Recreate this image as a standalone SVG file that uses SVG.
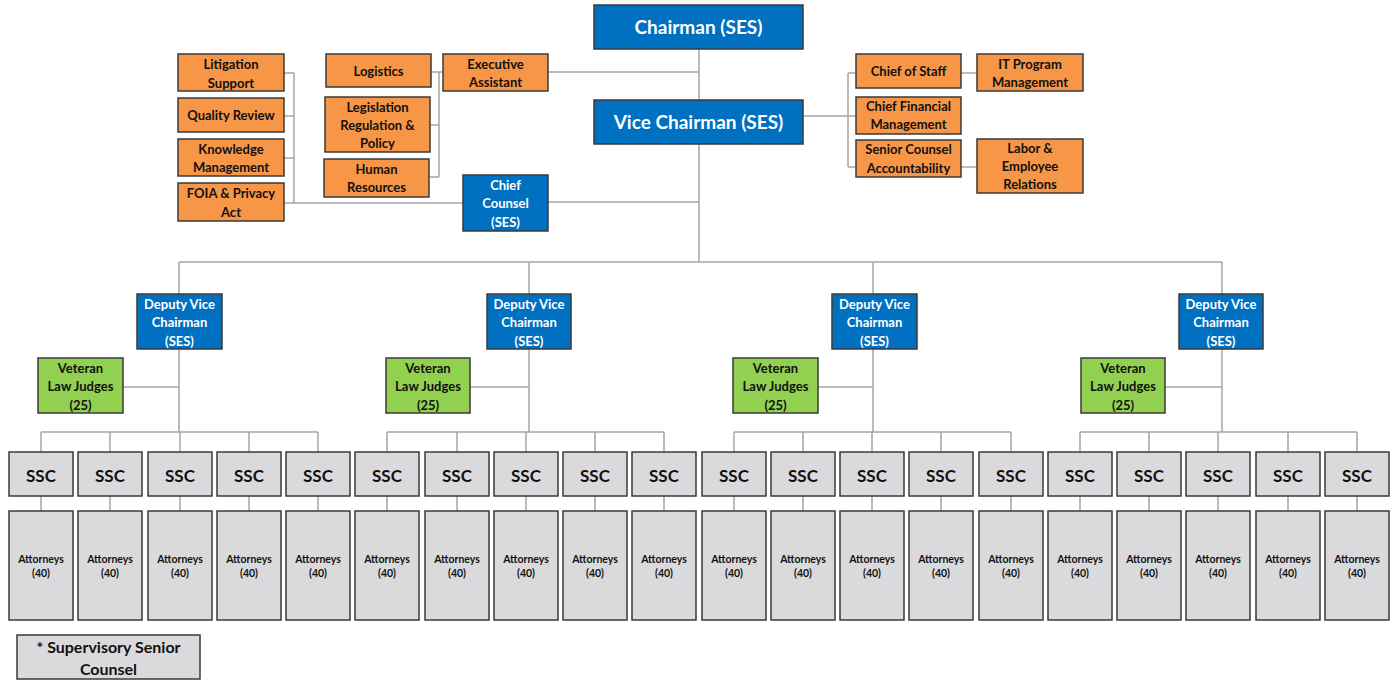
<svg xmlns="http://www.w3.org/2000/svg" width="1390" height="680" viewBox="0 0 1390 680">
  <style>
    rect { stroke: #3a3a3a; stroke-width: 1.5; }
    .blue { fill: #0070C0; }
    .orange { fill: #F79646; }
    .green { fill: #92D050; }
    .gray { fill: #DADADC; }
    text { font-family: Lato, "Open Sans", "Liberation Sans", sans-serif; font-weight: bold; text-anchor: middle; }
    .wt { fill: #ffffff; }
    .dt { fill: #111111; }
    .big { font-size: 19px; }
    .mid { font-size: 13px; }
    .ssc { font-size: 17px; }
    .sm { font-size: 10.5px; }
    .leg { font-size: 16px; }
    #connectors line { stroke: #a6a6a6; stroke-width: 1.5; fill: none; }
  </style>

  <!-- connector lines -->
  <g id="connectors">
    <!-- Chairman to Vice Chairman, trunk down to the deputy bus -->
    <line x1="699" y1="49" x2="699" y2="100"/>
    <line x1="699" y1="144" x2="699" y2="262"/>
    <line x1="548" y1="72" x2="699" y2="72"/>
    <!-- Executive Assistant staff bracket -->
    <line x1="431" y1="72" x2="443" y2="72"/>
    <line x1="439" y1="72" x2="439" y2="177"/>
    <line x1="430" y1="125" x2="439" y2="125"/>
    <line x1="429" y1="177" x2="439" y2="177"/>
    <!-- Chief Counsel staff bracket -->
    <line x1="284" y1="73" x2="294" y2="73"/>
    <line x1="294" y1="73" x2="294" y2="203"/>
    <line x1="284" y1="116" x2="294" y2="116"/>
    <line x1="284" y1="158" x2="294" y2="158"/>
    <line x1="284" y1="203" x2="463" y2="203"/>
    <line x1="548" y1="202" x2="699" y2="202"/>
    <!-- Vice Chairman staff bracket -->
    <line x1="803" y1="116" x2="856" y2="116"/>
    <line x1="848" y1="73" x2="848" y2="167"/>
    <line x1="848" y1="73" x2="856" y2="73"/>
    <line x1="848" y1="167" x2="856" y2="167"/>
    <line x1="961" y1="73" x2="977" y2="73"/>
    <line x1="961" y1="167" x2="977" y2="167"/>
    <!-- Deputy bus -->
    <line x1="179" y1="262" x2="1222" y2="262"/>
    <!-- Deputy trunks -->
    <line x1="179" y1="262" x2="179" y2="294"/>
    <line x1="529" y1="262" x2="529" y2="294"/>
    <line x1="873" y1="262" x2="873" y2="294"/>
    <line x1="1222" y1="262" x2="1222" y2="294"/>
    <line x1="179" y1="349" x2="179" y2="432"/>
    <line x1="529" y1="349" x2="529" y2="432"/>
    <line x1="873" y1="349" x2="873" y2="432"/>
    <line x1="1222" y1="349" x2="1222" y2="432"/>
    <!-- Veteran Law Judges -->
    <line x1="123" y1="387" x2="179" y2="387"/>
    <line x1="470" y1="387" x2="529" y2="387"/>
    <line x1="818" y1="387" x2="873" y2="387"/>
    <line x1="1165" y1="387" x2="1222" y2="387"/>
    <!-- SSC buses -->
    <line x1="41" y1="432" x2="318" y2="432"/>
    <line x1="387" y1="432" x2="664" y2="432"/>
    <line x1="734" y1="432" x2="1011" y2="432"/>
    <line x1="1080" y1="432" x2="1357" y2="432"/>
    <!-- SSC stubs -->
    <line x1="41" y1="432" x2="41" y2="452"/>
    <line x1="110" y1="432" x2="110" y2="452"/>
    <line x1="180" y1="432" x2="180" y2="452"/>
    <line x1="249" y1="432" x2="249" y2="452"/>
    <line x1="318" y1="432" x2="318" y2="452"/>
    <line x1="387" y1="432" x2="387" y2="452"/>
    <line x1="457" y1="432" x2="457" y2="452"/>
    <line x1="526" y1="432" x2="526" y2="452"/>
    <line x1="595" y1="432" x2="595" y2="452"/>
    <line x1="664" y1="432" x2="664" y2="452"/>
    <line x1="734" y1="432" x2="734" y2="452"/>
    <line x1="803" y1="432" x2="803" y2="452"/>
    <line x1="872" y1="432" x2="872" y2="452"/>
    <line x1="941" y1="432" x2="941" y2="452"/>
    <line x1="1011" y1="432" x2="1011" y2="452"/>
    <line x1="1080" y1="432" x2="1080" y2="452"/>
    <line x1="1149" y1="432" x2="1149" y2="452"/>
    <line x1="1218" y1="432" x2="1218" y2="452"/>
    <line x1="1288" y1="432" x2="1288" y2="452"/>
    <line x1="1357" y1="432" x2="1357" y2="452"/>
    <!-- SSC to Attorneys -->
    <line x1="41" y1="496" x2="41" y2="511"/>
    <line x1="110" y1="496" x2="110" y2="511"/>
    <line x1="180" y1="496" x2="180" y2="511"/>
    <line x1="249" y1="496" x2="249" y2="511"/>
    <line x1="318" y1="496" x2="318" y2="511"/>
    <line x1="387" y1="496" x2="387" y2="511"/>
    <line x1="457" y1="496" x2="457" y2="511"/>
    <line x1="526" y1="496" x2="526" y2="511"/>
    <line x1="595" y1="496" x2="595" y2="511"/>
    <line x1="664" y1="496" x2="664" y2="511"/>
    <line x1="734" y1="496" x2="734" y2="511"/>
    <line x1="803" y1="496" x2="803" y2="511"/>
    <line x1="872" y1="496" x2="872" y2="511"/>
    <line x1="941" y1="496" x2="941" y2="511"/>
    <line x1="1011" y1="496" x2="1011" y2="511"/>
    <line x1="1080" y1="496" x2="1080" y2="511"/>
    <line x1="1149" y1="496" x2="1149" y2="511"/>
    <line x1="1218" y1="496" x2="1218" y2="511"/>
    <line x1="1288" y1="496" x2="1288" y2="511"/>
    <line x1="1357" y1="496" x2="1357" y2="511"/>
  </g>

  <!-- leadership -->
  <g id="chairman"><rect class="blue" x="594" y="5" width="209" height="44"/><text class="wt big" x="698.5" y="33.5">Chairman (SES)</text></g>
  <g id="vice-chairman"><rect class="blue" x="594" y="100" width="209" height="44"/><text class="wt big" x="698.5" y="128.5">Vice Chairman (SES)</text></g>
  <g id="chief-counsel"><rect class="blue" x="463" y="175" width="85" height="56"/>
    <text class="wt mid" x="505.5" y="189.5">Chief</text><text class="wt mid" x="505.5" y="208">Counsel</text><text class="wt mid" x="505.5" y="226.5">(SES)</text></g>

  <!-- staff offices -->
  <g id="executive-assistant"><rect class="orange" x="443" y="54" width="105" height="37"/>
    <text class="dt mid" x="495.5" y="68.5">Executive</text><text class="dt mid" x="495.5" y="86.5">Assistant</text></g>
  <g id="logistics"><rect class="orange" x="326" y="54" width="105" height="33"/>
    <text class="dt mid" x="378.5" y="75.5">Logistics</text></g>
  <g id="legislation"><rect class="orange" x="325" y="97" width="105" height="55"/>
    <text class="dt mid" x="377.5" y="111.5">Legislation</text><text class="dt mid" x="377.5" y="130">Regulation &amp;</text><text class="dt mid" x="377.5" y="147.5">Policy</text></g>
  <g id="human-resources"><rect class="orange" x="324" y="159" width="105" height="38"/>
    <text class="dt mid" x="376.5" y="173.5">Human</text><text class="dt mid" x="376.5" y="191.5">Resources</text></g>
  <g id="litigation-support"><rect class="orange" x="178" y="54" width="106" height="37"/>
    <text class="dt mid" x="231" y="68.5">Litigation</text><text class="dt mid" x="231" y="87.5">Support</text></g>
  <g id="quality-review"><rect class="orange" x="178" y="98" width="106" height="34"/>
    <text class="dt mid" x="231" y="120">Quality Review</text></g>
  <g id="knowledge-management"><rect class="orange" x="178" y="139" width="106" height="37"/>
    <text class="dt mid" x="231" y="153.5">Knowledge</text><text class="dt mid" x="231" y="171.5">Management</text></g>
  <g id="foia-privacy"><rect class="orange" x="178" y="183" width="106" height="38"/>
    <text class="dt mid" x="231" y="197.5">FOIA &amp; Privacy</text><text class="dt mid" x="231" y="216.5">Act</text></g>
  <g id="chief-of-staff"><rect class="orange" x="856" y="54" width="105" height="34"/>
    <text class="dt mid" x="908.5" y="75.5">Chief of Staff</text></g>
  <g id="it-program"><rect class="orange" x="977" y="54" width="106" height="37"/>
    <text class="dt mid" x="1030" y="69">IT Program</text><text class="dt mid" x="1030" y="86.5">Management</text></g>
  <g id="chief-financial"><rect class="orange" x="856" y="97" width="105" height="37"/>
    <text class="dt mid" x="908.5" y="110.5">Chief Financial</text><text class="dt mid" x="908.5" y="128.5">Management</text></g>
  <g id="senior-counsel-accountability"><rect class="orange" x="856" y="140" width="105" height="37"/>
    <text class="dt mid" x="908.5" y="154">Senior Counsel</text><text class="dt mid" x="908.5" y="172.5">Accountability</text></g>
  <g id="labor-employee"><rect class="orange" x="977" y="139" width="106" height="54"/>
    <text class="dt mid" x="1030" y="152.5">Labor &amp;</text><text class="dt mid" x="1030" y="171">Employee</text><text class="dt mid" x="1030" y="188.5">Relations</text></g>

  <!-- deputy vice chairmen -->
  <g id="dvc-1"><rect class="blue" x="137" y="294" width="85" height="55"/>
    <text class="wt mid" x="179.5" y="308.5">Deputy Vice</text><text class="wt mid" x="179.5" y="327">Chairman</text><text class="wt mid" x="179.5" y="345.5">(SES)</text></g>
  <g id="dvc-2"><rect class="blue" x="487" y="294" width="84" height="55"/>
    <text class="wt mid" x="529" y="308.5">Deputy Vice</text><text class="wt mid" x="529" y="327">Chairman</text><text class="wt mid" x="529" y="345.5">(SES)</text></g>
  <g id="dvc-3"><rect class="blue" x="832" y="294" width="85" height="55"/>
    <text class="wt mid" x="874.5" y="308.5">Deputy Vice</text><text class="wt mid" x="874.5" y="327">Chairman</text><text class="wt mid" x="874.5" y="345.5">(SES)</text></g>
  <g id="dvc-4"><rect class="blue" x="1179" y="294" width="84" height="55"/>
    <text class="wt mid" x="1221" y="308.5">Deputy Vice</text><text class="wt mid" x="1221" y="327">Chairman</text><text class="wt mid" x="1221" y="345.5">(SES)</text></g>

  <!-- veteran law judges -->
  <g id="vlj-1"><rect class="green" x="38" y="358" width="85" height="55"/>
    <text class="dt mid" x="80.5" y="372.5">Veteran</text><text class="dt mid" x="80.5" y="391">Law Judges</text><text class="dt mid" x="80.5" y="409.5">(25)</text></g>
  <g id="vlj-2"><rect class="green" x="386" y="358" width="84" height="55"/>
    <text class="dt mid" x="428" y="372.5">Veteran</text><text class="dt mid" x="428" y="391">Law Judges</text><text class="dt mid" x="428" y="409.5">(25)</text></g>
  <g id="vlj-3"><rect class="green" x="733" y="358" width="85" height="55"/>
    <text class="dt mid" x="775.5" y="372.5">Veteran</text><text class="dt mid" x="775.5" y="391">Law Judges</text><text class="dt mid" x="775.5" y="409.5">(25)</text></g>
  <g id="vlj-4"><rect class="green" x="1081" y="358" width="84" height="55"/>
    <text class="dt mid" x="1123" y="372.5">Veteran</text><text class="dt mid" x="1123" y="391">Law Judges</text><text class="dt mid" x="1123" y="409.5">(25)</text></g>

  <!-- supervisory senior counsel and attorney teams -->
  <g id="ssc-1"><rect class="gray" x="9" y="452" width="64" height="44"/><text class="dt ssc" x="41" y="481.5">SSC</text></g>
  <g id="ssc-2"><rect class="gray" x="78" y="452" width="64" height="44"/><text class="dt ssc" x="110" y="481.5">SSC</text></g>
  <g id="ssc-3"><rect class="gray" x="148" y="452" width="64" height="44"/><text class="dt ssc" x="180" y="481.5">SSC</text></g>
  <g id="ssc-4"><rect class="gray" x="217" y="452" width="64" height="44"/><text class="dt ssc" x="249" y="481.5">SSC</text></g>
  <g id="ssc-5"><rect class="gray" x="286" y="452" width="64" height="44"/><text class="dt ssc" x="318" y="481.5">SSC</text></g>
  <g id="ssc-6"><rect class="gray" x="355" y="452" width="64" height="44"/><text class="dt ssc" x="387" y="481.5">SSC</text></g>
  <g id="ssc-7"><rect class="gray" x="425" y="452" width="64" height="44"/><text class="dt ssc" x="457" y="481.5">SSC</text></g>
  <g id="ssc-8"><rect class="gray" x="494" y="452" width="64" height="44"/><text class="dt ssc" x="526" y="481.5">SSC</text></g>
  <g id="ssc-9"><rect class="gray" x="563" y="452" width="64" height="44"/><text class="dt ssc" x="595" y="481.5">SSC</text></g>
  <g id="ssc-10"><rect class="gray" x="632" y="452" width="64" height="44"/><text class="dt ssc" x="664" y="481.5">SSC</text></g>
  <g id="ssc-11"><rect class="gray" x="702" y="452" width="64" height="44"/><text class="dt ssc" x="734" y="481.5">SSC</text></g>
  <g id="ssc-12"><rect class="gray" x="771" y="452" width="64" height="44"/><text class="dt ssc" x="803" y="481.5">SSC</text></g>
  <g id="ssc-13"><rect class="gray" x="840" y="452" width="64" height="44"/><text class="dt ssc" x="872" y="481.5">SSC</text></g>
  <g id="ssc-14"><rect class="gray" x="909" y="452" width="64" height="44"/><text class="dt ssc" x="941" y="481.5">SSC</text></g>
  <g id="ssc-15"><rect class="gray" x="979" y="452" width="64" height="44"/><text class="dt ssc" x="1011" y="481.5">SSC</text></g>
  <g id="ssc-16"><rect class="gray" x="1048" y="452" width="64" height="44"/><text class="dt ssc" x="1080" y="481.5">SSC</text></g>
  <g id="ssc-17"><rect class="gray" x="1117" y="452" width="64" height="44"/><text class="dt ssc" x="1149" y="481.5">SSC</text></g>
  <g id="ssc-18"><rect class="gray" x="1186" y="452" width="64" height="44"/><text class="dt ssc" x="1218" y="481.5">SSC</text></g>
  <g id="ssc-19"><rect class="gray" x="1256" y="452" width="64" height="44"/><text class="dt ssc" x="1288" y="481.5">SSC</text></g>
  <g id="ssc-20"><rect class="gray" x="1325" y="452" width="64" height="44"/><text class="dt ssc" x="1357" y="481.5">SSC</text></g>

  <g id="att-1"><rect class="gray" x="9" y="511" width="64" height="109"/><text class="dt sm" x="41" y="562.5">Attorneys</text><text class="dt sm" x="41" y="577">(40)</text></g>
  <g id="att-2"><rect class="gray" x="78" y="511" width="64" height="109"/><text class="dt sm" x="110" y="562.5">Attorneys</text><text class="dt sm" x="110" y="577">(40)</text></g>
  <g id="att-3"><rect class="gray" x="148" y="511" width="64" height="109"/><text class="dt sm" x="180" y="562.5">Attorneys</text><text class="dt sm" x="180" y="577">(40)</text></g>
  <g id="att-4"><rect class="gray" x="217" y="511" width="64" height="109"/><text class="dt sm" x="249" y="562.5">Attorneys</text><text class="dt sm" x="249" y="577">(40)</text></g>
  <g id="att-5"><rect class="gray" x="286" y="511" width="64" height="109"/><text class="dt sm" x="318" y="562.5">Attorneys</text><text class="dt sm" x="318" y="577">(40)</text></g>
  <g id="att-6"><rect class="gray" x="355" y="511" width="64" height="109"/><text class="dt sm" x="387" y="562.5">Attorneys</text><text class="dt sm" x="387" y="577">(40)</text></g>
  <g id="att-7"><rect class="gray" x="425" y="511" width="64" height="109"/><text class="dt sm" x="457" y="562.5">Attorneys</text><text class="dt sm" x="457" y="577">(40)</text></g>
  <g id="att-8"><rect class="gray" x="494" y="511" width="64" height="109"/><text class="dt sm" x="526" y="562.5">Attorneys</text><text class="dt sm" x="526" y="577">(40)</text></g>
  <g id="att-9"><rect class="gray" x="563" y="511" width="64" height="109"/><text class="dt sm" x="595" y="562.5">Attorneys</text><text class="dt sm" x="595" y="577">(40)</text></g>
  <g id="att-10"><rect class="gray" x="632" y="511" width="64" height="109"/><text class="dt sm" x="664" y="562.5">Attorneys</text><text class="dt sm" x="664" y="577">(40)</text></g>
  <g id="att-11"><rect class="gray" x="702" y="511" width="64" height="109"/><text class="dt sm" x="734" y="562.5">Attorneys</text><text class="dt sm" x="734" y="577">(40)</text></g>
  <g id="att-12"><rect class="gray" x="771" y="511" width="64" height="109"/><text class="dt sm" x="803" y="562.5">Attorneys</text><text class="dt sm" x="803" y="577">(40)</text></g>
  <g id="att-13"><rect class="gray" x="840" y="511" width="64" height="109"/><text class="dt sm" x="872" y="562.5">Attorneys</text><text class="dt sm" x="872" y="577">(40)</text></g>
  <g id="att-14"><rect class="gray" x="909" y="511" width="64" height="109"/><text class="dt sm" x="941" y="562.5">Attorneys</text><text class="dt sm" x="941" y="577">(40)</text></g>
  <g id="att-15"><rect class="gray" x="979" y="511" width="64" height="109"/><text class="dt sm" x="1011" y="562.5">Attorneys</text><text class="dt sm" x="1011" y="577">(40)</text></g>
  <g id="att-16"><rect class="gray" x="1048" y="511" width="64" height="109"/><text class="dt sm" x="1080" y="562.5">Attorneys</text><text class="dt sm" x="1080" y="577">(40)</text></g>
  <g id="att-17"><rect class="gray" x="1117" y="511" width="64" height="109"/><text class="dt sm" x="1149" y="562.5">Attorneys</text><text class="dt sm" x="1149" y="577">(40)</text></g>
  <g id="att-18"><rect class="gray" x="1186" y="511" width="64" height="109"/><text class="dt sm" x="1218" y="562.5">Attorneys</text><text class="dt sm" x="1218" y="577">(40)</text></g>
  <g id="att-19"><rect class="gray" x="1256" y="511" width="64" height="109"/><text class="dt sm" x="1288" y="562.5">Attorneys</text><text class="dt sm" x="1288" y="577">(40)</text></g>
  <g id="att-20"><rect class="gray" x="1325" y="511" width="64" height="109"/><text class="dt sm" x="1357" y="562.5">Attorneys</text><text class="dt sm" x="1357" y="577">(40)</text></g>

  <!-- legend -->
  <g id="legend"><rect class="gray" x="17" y="635" width="183" height="44"/>
    <text class="dt leg" x="108.5" y="652.5">* Supervisory Senior</text><text class="dt leg" x="108.5" y="674.5">Counsel</text></g>
</svg>
